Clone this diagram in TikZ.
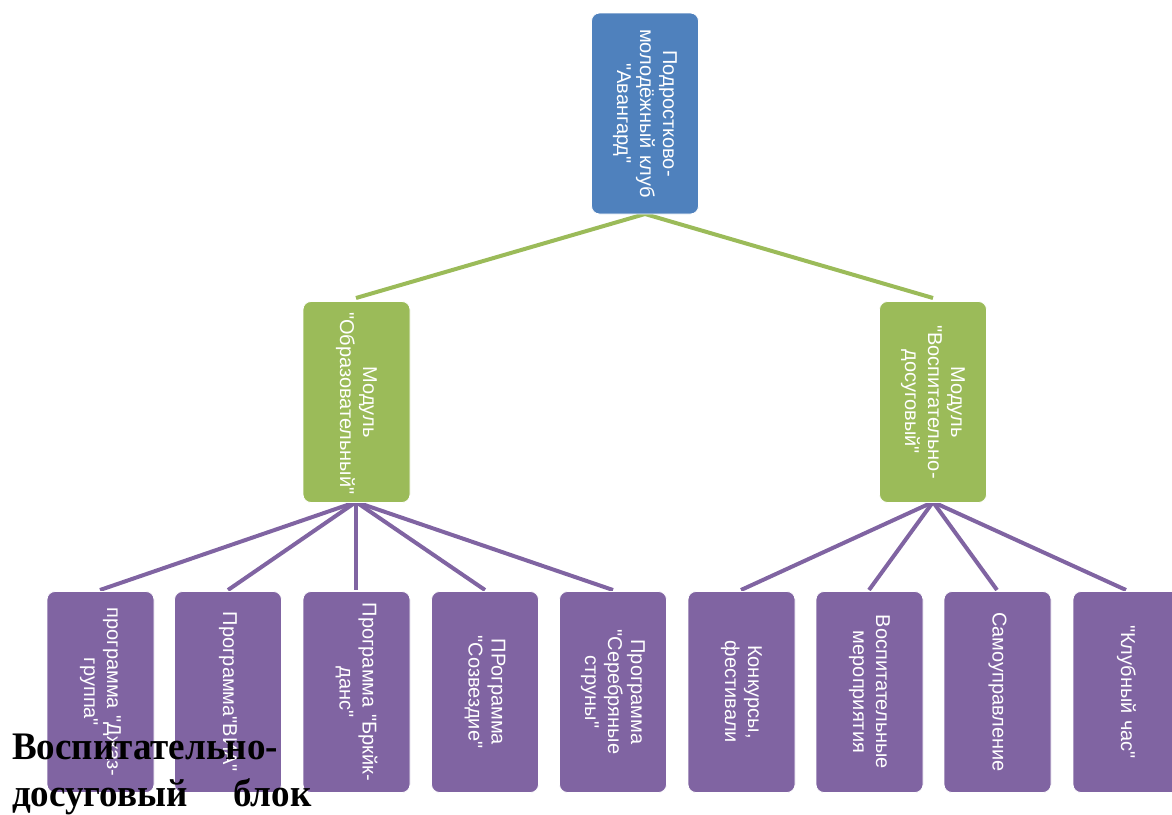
\documentclass[tikz,border=0pt]{standalone}
\usepackage{fontspec}
\setmainfont{Liberation Serif}
\newfontfamily\boxfont{Liberation Sans}
\newfontfamily\narrowserif[FakeStretch=0.95]{Liberation Serif}
\definecolor{cblue}{HTML}{4F81BD}
\definecolor{cgreen}{HTML}{9BBB59}
\definecolor{cpurple}{HTML}{8064A2}
\begin{document}
\begin{tikzpicture}[x=1pt,y=-1pt,
  box/.style={rectangle, rounded corners=8pt, draw=white, line width=0.8pt,
    minimum width=201pt, minimum height=107pt, rotate=-90, text=white,
    align=center, text width=180pt, inner sep=2pt,
    font=\boxfont\fontsize{20}{23}\selectfont},
  bluebox/.style={box, fill=cblue},
  greenbox/.style={box, fill=cgreen},
  purplebox/.style={box, fill=cpurple},
  gline/.style={draw=cgreen, line width=4pt},
  pline/.style={draw=cpurple, line width=4pt},
  bigtext/.style={anchor=base west, inner sep=0pt, font=\narrowserif\bfseries\fontsize{39}{47}\selectfont}]
\useasboundingbox (0,0) rectangle (1172,814);

% connectors (behind)
\coordinate (topB) at (645,214);
\coordinate (lgT) at (356,298);
\coordinate (rgT) at (933,298);
\coordinate (lgB) at (356,502);
\coordinate (rgB) at (933,502);
\path[gline] (topB) -- (lgT);
\path[gline] (topB) -- (rgT);
\foreach \x in {100,228,356,485,613} {\path[pline] (lgB) -- (\x,590);}
\foreach \x in {741,869,997,1126} {\path[pline] (rgB) -- (\x,590);}

\node[bluebox] (root) at (645,113.5) {Подростково-\\молодёжный клуб\\"Авангард"};
\node[greenbox] (mod1) at (356.5,402) {Модуль\\"Образовательный"};
\node[greenbox] (mod2) at (933,402) {Модуль\\"Воспитательно-\\досуговый"};

\node[purplebox] (p1) at (100.5,692) {программа "Джаз-\\группа"};
\node[purplebox] (p2) at (228,692) {Программа"ВИА"};
\node[purplebox] (p3) at (356.5,692) {Программа "Бркйк-\\данс"};
\node[purplebox] (p4) at (485,692) {ПРограмма\\"Созвездие"};
\node[purplebox] (p5) at (613,692) {Программа\\"Серебряные\\струны"};
\node[purplebox] (p6) at (741.5,692) {Конкурсы,\\фестивали};
\node[purplebox] (p7) at (869.5,692) {Воспитательные\\мероприятия};
\node[purplebox] (p8) at (997.5,692) {Самоуправление};
\node[purplebox] (p9) at (1126.5,692) {"Клубный час"};

\node[bigtext] (t1) at (12,759) {Воспитательно-};
\node[bigtext] (t2) at (12,806) {досуговый};
\node[bigtext] (t3) at (233,806) {блок};
\end{tikzpicture}
\end{document}
